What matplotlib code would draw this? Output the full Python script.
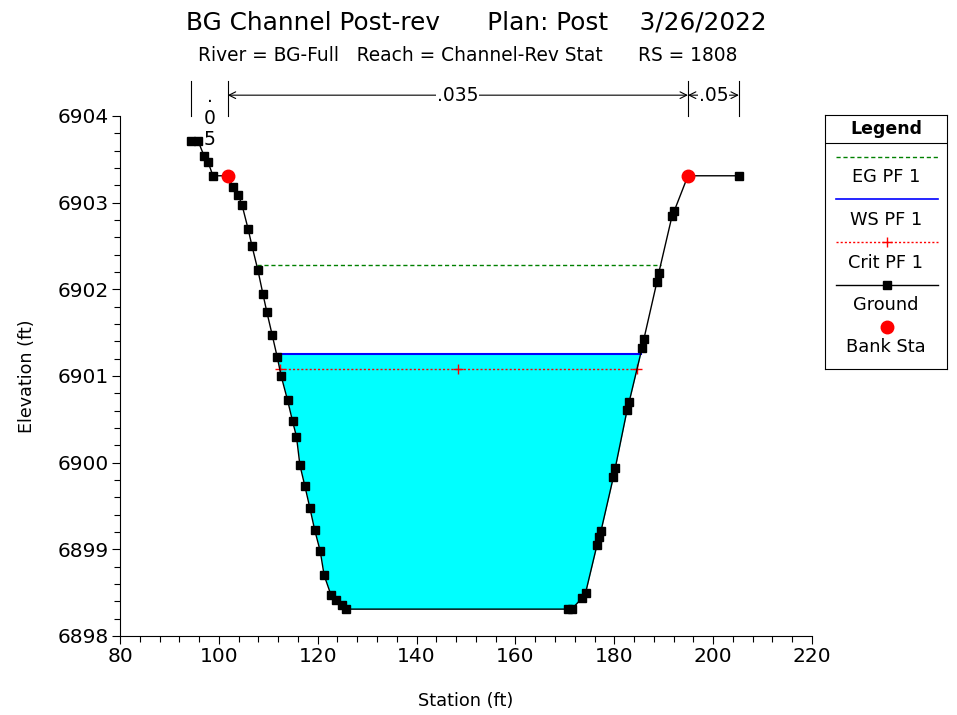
import numpy as np
import matplotlib.pyplot as plt
from matplotlib.ticker import MultipleLocator

plt.rcParams['font.family'] = ['DejaVu Sans']

# ground points (station, elevation)
station = [94.4, 95.8, 97.0, 97.8, 98.8, 101.8, 102.9, 103.9, 104.7, 105.9, 106.7,
           107.9, 108.9, 109.7, 110.8, 111.8, 112.6, 113.9, 114.9, 115.7, 116.4,
           117.4, 118.4, 119.4, 120.5, 121.3, 122.7, 123.7, 124.9, 125.7, 170.6,
           171.4, 173.5, 174.2, 176.5, 177.0, 177.3, 179.8, 180.2, 182.6, 183.0,
           185.6, 186.0, 188.6, 189.0, 191.7, 192.1, 194.9, 205.2]
elev = [6903.71, 6903.71, 6903.54, 6903.47, 6903.31, 6903.31, 6903.18, 6903.09,
        6902.97, 6902.70, 6902.50, 6902.22, 6901.95, 6901.74, 6901.47, 6901.22,
        6901.00, 6900.72, 6900.48, 6900.30, 6899.97, 6899.73, 6899.48, 6899.22,
        6898.98, 6898.70, 6898.47, 6898.42, 6898.36, 6898.31, 6898.31, 6898.31,
        6898.44, 6898.50, 6899.05, 6899.14, 6899.21, 6899.83, 6899.94, 6900.61,
        6900.70, 6901.32, 6901.43, 6902.08, 6902.19, 6902.85, 6902.90, 6903.31,
        6903.31]
bank_sta = [101.8, 194.9]
bank_elev = [6903.31, 6903.31]

ws_elev = 6901.25
crit_elev = 6901.08
eg_elev = 6902.28

# manning's n regions
n_sta = [94.4, 101.8, 194.9, 205.2]
n_vals = ['.05', '.035', '.05']

station = np.array(station)
elev = np.array(elev)


def crossing(level):
    # left and right stations where the ground crosses a level
    idx = np.argmin(elev)
    xl = np.interp(level, elev[:idx + 1][::-1], station[:idx + 1][::-1])
    xr = np.interp(level, elev[idx:], station[idx:])
    return xl, xr


fig = plt.figure(figsize=(9.57, 7.15), dpi=100)
ax = fig.add_axes([0.1254, 0.1105, 0.7231, 0.7273])

# water
xl, xr = crossing(ws_elev)
xs = np.concatenate([[xl], station[(station > xl) & (station < xr)], [xr]])
ys = np.interp(xs, station, elev)
ax.fill_between(xs, ys, ws_elev, color='#00FFFF', lw=0)
ax.plot([xl, xr], [ws_elev, ws_elev], color='#0000FF', lw=1.5)

el, er = crossing(eg_elev)
ax.plot([el, er], [eg_elev, eg_elev], color='#008000', lw=1, ls=(0, (3, 2)))

cl, cr = crossing(crit_elev)
ax.plot([cl, cr], [crit_elev, crit_elev], color='red', lw=1, ls=(0, (1.5, 1.5)))
ax.plot([cl, (cl + cr) / 2, cr], [crit_elev] * 3, ls='none', marker='+',
        color='red', ms=7, mew=1)

ax.plot(station, elev, color='black', lw=1, marker='s', ms=6.2, mfc='black', mec='black')
ax.plot(bank_sta, bank_elev, ls='none', marker='o', ms=9, color='red')

ax.set_xlim(80, 220)
ax.set_ylim(6898, 6904)
ax.xaxis.set_major_locator(MultipleLocator(20))
ax.xaxis.set_minor_locator(MultipleLocator(4))
ax.yaxis.set_major_locator(MultipleLocator(1))
ax.yaxis.set_minor_locator(MultipleLocator(0.2))
ax.ticklabel_format(useOffset=False)
ax.spines['top'].set_visible(False)
ax.spines['right'].set_visible(False)
ax.tick_params(which='major', length=6, labelsize=14.5, width=0.8, pad=2)
ax.tick_params(which='minor', length=4, width=0.8)
ax.set_xlabel('Station (ft)', fontsize=12.8)
ax.set_ylabel('Elevation (ft)', fontsize=12.6)
ax.xaxis.set_label_coords(0.5, -0.108)
ax.yaxis.set_label_coords(-0.122, 0.5)

# manning's n annotation above the plot
for s in n_sta:
    ax.plot([s, s], [1.0, 1.068], color='black', lw=0.8,
            transform=ax.get_xaxis_transform(), clip_on=False)
ax.text((n_sta[0] + n_sta[1]) / 2, 0.996, '.\n0\n5', transform=ax.get_xaxis_transform(),
        ha='center', va='center', fontsize=13.5, linespacing=1.15)
for i in (1, 2):
    x0, x1 = n_sta[i], n_sta[i + 1]
    ax.annotate('', xy=(x1, 1.04), xytext=(x0, 1.04), xycoords=ax.get_xaxis_transform(),
                textcoords=ax.get_xaxis_transform(),
                arrowprops=dict(arrowstyle='<->', lw=0.8, shrinkA=0, shrinkB=0,
                                mutation_scale=12))
    ax.text((x0 + x1) / 2, 1.04, n_vals[i], transform=ax.get_xaxis_transform(),
            ha='center', va='center', fontsize=13.5,
            bbox=dict(fc='white', ec='none', pad=0.5))

fig.text(476 / 957, 0.969, 'BG Channel Post-rev      Plan: Post    3/26/2022',
         ha='center', va='center', fontsize=17.8)
fig.text(468 / 957, 0.923, 'River = BG-Full   Reach = Channel-Rev Stat      RS = 1808',
         ha='center', va='center', fontsize=13.4)

# legend box
lg = fig.add_axes([825 / 957, 1 - 369 / 715, 122 / 957, 254 / 715])
lg.set_xlim(825, 947)
lg.set_ylim(369, 115)
lg.set_xticks([])
lg.set_yticks([])
for sp in lg.spines.values():
    sp.set_linewidth(0.8)
lg.axhline(143, color='black', lw=0.8)
lg.text(886, 129, 'Legend', ha='center', va='center', fontsize=12.5, weight='bold')
lg.plot([836, 938], [157, 157], color='#008000', lw=1, ls=(0, (3, 2)))
lg.text(886, 177, 'EG PF 1', ha='center', va='center', fontsize=12.8)
lg.plot([836, 938], [199, 199], color='#0000FF', lw=1.2)
lg.text(886, 220, 'WS PF 1', ha='center', va='center', fontsize=12.8)
lg.plot([836, 938], [242, 242], color='red', lw=1, ls=(0, (1.5, 1.5)))
lg.plot([887], [242], marker='+', color='red', ms=7)
lg.text(886, 263, 'Crit PF 1', ha='center', va='center', fontsize=12.8)
lg.plot([836, 938], [285, 285], color='black', lw=1)
lg.plot([887], [285], marker='s', color='black', ms=6)
lg.text(886, 305, 'Ground', ha='center', va='center', fontsize=12.8)
lg.plot([887], [327], marker='o', color='red', ms=9)
lg.text(886, 347, 'Bank Sta', ha='center', va='center', fontsize=12.8)

fig.savefig('out.png', dpi=100)
